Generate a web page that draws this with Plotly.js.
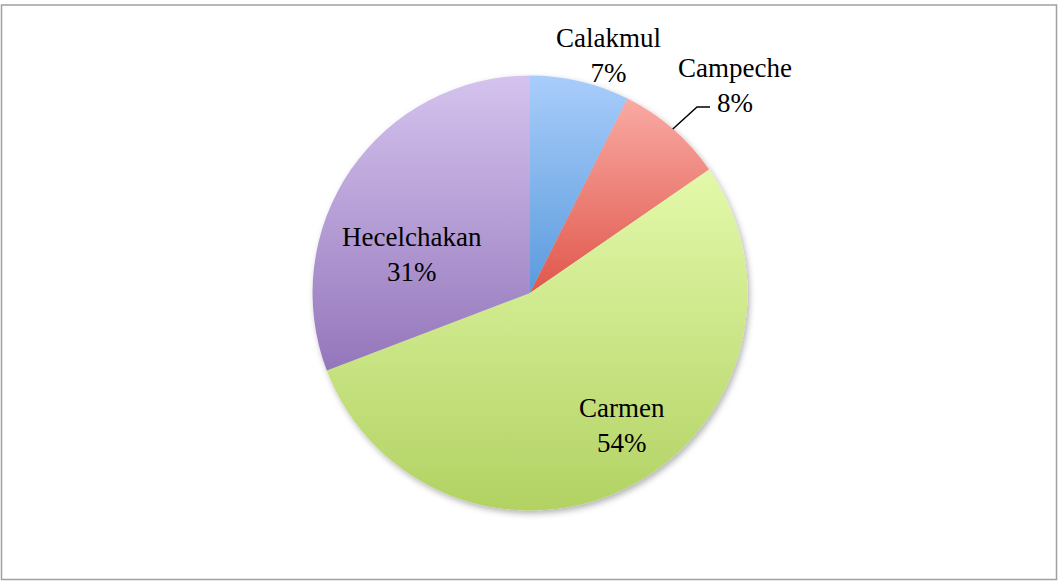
<!DOCTYPE html>
<html>
<head>
<meta charset="utf-8">
<script src="https://cdn.plot.ly/plotly-3.0.1.min.js"></script>
<style>
  body { margin: 0; background: #fff; }
  #chart { width: 1058px; height: 581px; }
</style>
</head>
<body>
<div id="chart"></div>
<script>
// Chart data
const municipios = ['Calakmul', 'Campeche', 'Carmen', 'Hecelchakan'];
const shares = [7.4, 8.0, 53.8, 30.8];

// Gradient colours per slice (top -> bottom)
const topColors = ['#a9cdfb', '#f9aaa3', '#e3f9aa', '#d5c3ee'];
const bottomColors = ['#5a9bdc', '#e0574b', '#b2d263', '#9476bb'];

const W = 1058, H = 581;
const cx = 530, cy = 293, R = 217.5;

// label block centres (pixels), same order as municipios
const labelSpots = [[609, 55], [735, 85], [622, 425], [412, 254]];

const px = x => x / W;
const py = y => 1 - y / H;

const total = shares.reduce((a, b) => a + b, 0);

const annotations = municipios.map((name, i) => ({
    text: name + '<br>' + Math.round(shares[i] / total * 100) + '%',
    x: px(labelSpots[i][0]),
    y: py(labelSpots[i][1]),
    xref: 'paper', yref: 'paper',
    xanchor: 'center', yanchor: 'middle',
    showarrow: false,
    font: { family: 'Liberation Serif, serif', size: 27, color: '#000' }
}));

// leader line for Campeche, starting at the slice edge mid angle
const midAng = (shares[0] + shares[1] / 2) / total * 2 * Math.PI;
const sx = cx + R * Math.sin(midAng), sy = cy - R * Math.cos(midAng);
const leader = 'M' + px(sx) + ',' + py(sy) + ' L' + px(697) + ',' + py(107) + ' L' + px(710) + ',' + py(107);

const trace = {
    type: 'pie',
    labels: municipios,
    values: shares,
    sort: false,
    direction: 'clockwise',
    rotation: 0,
    textinfo: 'none',
    hoverinfo: 'label+percent',
    marker: { colors: bottomColors, line: { color: '#ffffff', width: 0 } },
    domain: { x: [px(cx - R), px(cx + R)], y: [py(cy + R), py(cy - R)] },
    showlegend: false
};

const layout = {
    width: W,
    height: H,
    margin: { l: 0, r: 0, t: 0, b: 0 },
    paper_bgcolor: '#ffffff',
    annotations: annotations,
    shapes: [
        {
            type: 'rect', xref: 'paper', yref: 'paper',
            x0: px(1.5), x1: px(1056.5), y0: py(579.5), y1: py(5),
            line: { color: '#a0a0a0', width: 1.5 }
        },
        {
            type: 'path', xref: 'paper', yref: 'paper',
            path: leader,
            line: { color: '#000000', width: 1.5 }
        }
    ]
};

Plotly.newPlot('chart', [trace], layout, { displayModeBar: false }).then(() => {
    // gradient fills + soft shadow like the original
    const svg = document.querySelector('#chart .main-svg');
    const ns = 'http://www.w3.org/2000/svg';
    let defs = svg.querySelector('defs');
    if (!defs) { defs = document.createElementNS(ns, 'defs'); svg.prepend(defs); }
    topColors.forEach((c, i) => {
        const g = document.createElementNS(ns, 'linearGradient');
        g.setAttribute('id', 'sliceGrad' + i);
        g.setAttribute('x1', '0'); g.setAttribute('y1', '0');
        g.setAttribute('x2', '0'); g.setAttribute('y2', '1');
        [[0, c], [1, bottomColors[i]]].forEach(([o, col]) => {
            const s = document.createElementNS(ns, 'stop');
            s.setAttribute('offset', o);
            s.setAttribute('stop-color', col);
            g.appendChild(s);
        });
        defs.appendChild(g);
    });
    const f = document.createElementNS(ns, 'filter');
    f.setAttribute('id', 'pieShadow');
    f.setAttribute('x', '-10%'); f.setAttribute('y', '-10%');
    f.setAttribute('width', '120%'); f.setAttribute('height', '120%');
    const ds = document.createElementNS(ns, 'feDropShadow');
    ds.setAttribute('dx', '2'); ds.setAttribute('dy', '3');
    ds.setAttribute('stdDeviation', '3');
    ds.setAttribute('flood-color', '#000');
    ds.setAttribute('flood-opacity', '0.3');
    f.appendChild(ds);
    defs.appendChild(f);

    document.querySelectorAll('#chart .slice path.surface').forEach((p, i) => {
        p.style.fill = 'url(#sliceGrad' + i + ')';
    });
    const pieGroup = document.querySelector('#chart g.trace');
    if (pieGroup) pieGroup.setAttribute('filter', 'url(#pieShadow)');
});
</script>
</body>
</html>
